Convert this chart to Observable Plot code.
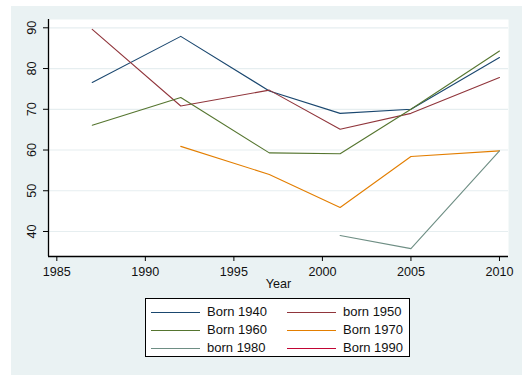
<!DOCTYPE html>
<html>
<head>
<meta charset="utf-8">
<script src="https://cdn.jsdelivr.net/npm/d3@7"></script>
<script src="https://cdn.jsdelivr.net/npm/@observablehq/plot@0.6"></script>
<style>
  html, body { margin: 0; padding: 0; background: #ffffff; }
  body { width: 529px; height: 381px; position: relative; overflow: hidden; font-family: "Liberation Sans", Arial, sans-serif; }
  #bg { position: absolute; left: 11px; top: 6px; width: 511px; height: 369px; background: #eaf2f3; }
  #chart { position: absolute; left: 0; top: 0; }
  #legend { position: absolute; left: 145px; top: 298px; width: 263px; height: 57px; background: #ffffff; border: 1px solid #000; }
  .item { position: absolute; height: 16px; }
  .swatch { position: absolute; width: 49px; height: 0; border-top: 1px solid; top: 0; }
  .lab { position: absolute; font-size: 13px; color: #111; white-space: nowrap; line-height: 16px; top: -8px; }
</style>
</head>
<body>
<div id="bg"></div>
<div id="chart"></div>
<div id="legend"></div>
<script>
// ---- data ----
const seriesNames = ["Born 1940", "born 1950", "Born 1960", "Born 1970", "born 1980", "Born 1990"];
const seriesColors = ["#1a476f", "#90353b", "#55752f", "#e37e00", "#6e8e84", "#c10534"];

const years1940 = [1987, 1992, 1997, 2001, 2005, 2010];
const values1940 = [76.6, 87.9, 74.5, 69.0, 70.0, 82.7];

const years1950 = [1987, 1992, 1997, 2001, 2005, 2010];
const values1950 = [89.6, 70.8, 74.7, 65.1, 69.0, 77.8];

const years1960 = [1987, 1992, 1997, 2001, 2005, 2010];
const values1960 = [66.1, 72.9, 59.3, 59.1, 70.0, 84.3];

const years1970 = [1992, 1997, 2001, 2005, 2010];
const values1970 = [60.9, 54.0, 45.9, 58.4, 59.8];

const years1980 = [2001, 2005, 2010];
const values1980 = [39.0, 35.8, 59.8];

const years1990 = [];
const values1990 = [];

const xTicks = [1985, 1990, 1995, 2000, 2005, 2010];
const yTicks = [40, 50, 60, 70, 80, 90];
const xDomain = [1984.53, 2010.51];
const yDomain = [33.86, 92.04];
const xLabel = "Year";

// ---- build table ----
const allYears = [years1940, years1950, years1960, years1970, years1980, years1990];
const allValues = [values1940, values1950, values1960, values1970, values1980, values1990];
const rows = [];
allYears.forEach((ys, i) => ys.forEach((y, j) => rows.push({series: seriesNames[i], year: y, value: allValues[i][j]})));

const chart = Plot.plot({
  width: 529,
  height: 290,
  marginLeft: 48,
  marginRight: 21,
  marginTop: 19,
  marginBottom: 34,
  style: {background: "transparent", fontFamily: "Liberation Sans, Arial, sans-serif", color: "#111"},
  x: {domain: xDomain},
  y: {domain: yDomain},
  color: {domain: seriesNames, range: seriesColors},
  marks: [
    Plot.frame({fill: "white", stroke: null}),
    Plot.ruleY(yTicks, {stroke: "#e6eef0", strokeWidth: 1.2}),
    Plot.line(rows, {x: "year", y: "value", z: "series", stroke: "series", strokeWidth: 1.1}),
    Plot.ruleX([xDomain[0]], {stroke: "#000", strokeWidth: 1.3}),
    Plot.ruleY([yDomain[0]], {stroke: "#000", strokeWidth: 1.3}),
    Plot.axisX({ticks: xTicks, tickSize: 5, tickPadding: 6, tickFormat: d => String(d), fontSize: 12.6, label: null, stroke: "#000"}),
    Plot.axisY({ticks: yTicks, tickSize: 5, tickFormat: () => "", label: null, stroke: "#000"}),
    Plot.text(yTicks, {y: d => d, text: d => String(d), frameAnchor: "left", dx: -16.5, rotate: -90, fontSize: 12.6, textAnchor: "middle", lineAnchor: "middle", fill: "#111"}),
    Plot.text([xLabel], {frameAnchor: "bottom", dy: 27, fontSize: 12.6, lineAnchor: "middle", fill: "#111"})
  ]
});
document.getElementById("chart").appendChild(chart);

// ---- legend ----
const legend = document.getElementById("legend");
const colX = [[5, 61], [141, 197]];
const rowY = [13, 31, 49];
seriesNames.forEach((name, i) => {
  const c = i % 2, r = Math.floor(i / 2);
  const item = document.createElement("div");
  item.className = "item";
  item.style.left = "0px";
  item.style.top = rowY[r] + "px";
  const sw = document.createElement("div");
  sw.className = "swatch";
  sw.style.left = colX[c][0] + "px";
  sw.style.borderTopColor = seriesColors[i];
  const lb = document.createElement("div");
  lb.className = "lab";
  lb.style.left = colX[c][1] + "px";
  lb.textContent = name;
  item.appendChild(sw);
  item.appendChild(lb);
  legend.appendChild(item);
});
</script>
</body>
</html>
